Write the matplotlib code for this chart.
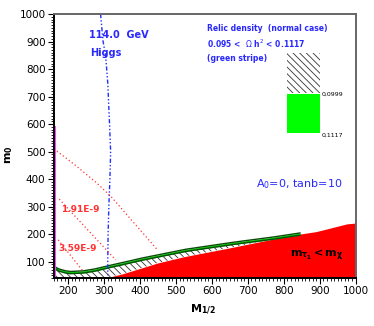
import numpy as np
import matplotlib.pyplot as plt
from matplotlib.ticker import MultipleLocator, FixedLocator
from matplotlib.patches import Rectangle

plt.rcParams['font.family'] = ['DejaVu Sans']
plt.rcParams['hatch.linewidth'] = 0.6

# stau LSP boundary (red region below)
red_m12 = [303, 350, 402, 449, 523, 646, 759, 830, 870, 890, 930, 975, 1000]
red_m0 = [40, 55, 76, 95, 118, 149, 179, 197, 205, 209, 222, 237, 240]

# green relic stripe (centre)
green_m12 = [162, 172, 190, 205, 240, 270, 308, 350, 402, 449, 523, 646, 759, 830, 845]
green_m0 = [78, 70, 63, 60, 62, 68, 80, 92, 108, 120, 140, 164, 183, 197, 200]

# Higgs 114 GeV contour
higgs_m12 = [290, 297, 304, 310, 315, 318, 316, 313, 311, 310, 310]
higgs_m0 = [1000, 900, 850, 750, 600, 500, 400, 300, 200, 100, 40]

# red dotted contours
c1_m12 = [160, 220, 280, 320, 380, 450]
c1_m0 = [510, 450, 385, 335, 245, 140]
c2_m12 = [175, 332]
c2_m0 = [327, 106]
c3_m12 = [172, 242]
c3_m0 = [179, 64]

x_ticks = [200, 300, 400, 500, 600, 700, 800, 900, 1000]
y_ticks = [100, 200, 300, 400, 500, 600, 700, 800, 900, 1000]

fig = plt.figure(figsize=(3.74, 3.26), dpi=100)
ax = fig.add_axes([0.144, 0.147, 0.807, 0.81])

x = np.linspace(160, 1000, 841)
red = np.interp(x, red_m12, red_m0, left=40)
green = np.interp(x, green_m12, green_m0)
gmask = x <= 845

# hatched region between stau boundary and green stripe
lo = np.maximum(red, 40)
ax.fill_between(x[gmask], lo[gmask], green[gmask] - 4, where=(green[gmask] - 4) > lo[gmask],
                facecolor='white', edgecolor='#333333', hatch='\\\\\\\\\\', linewidth=0)

# red region
ax.fill_between(x, 40, red, where=red > 40, color='#ff0000', linewidth=0)

# green stripe
ax.fill_between(x[gmask], green[gmask] - 4, green[gmask] + 4, color='#00e000', linewidth=0)
ax.plot(x[gmask], green[gmask] + 4, color='#0a4a0a', lw=1.0)
ax.plot(x[gmask], green[gmask] - 4, color='#0a4a0a', lw=1.0)

# magenta edge line
ax.plot([162, 162], [40, 590], color='#ff40ff', lw=1.5)

# Higgs line
ax.plot(higgs_m12, higgs_m0, color='#2030ff', lw=1.0, dashes=[3, 1.5, 1, 1.5, 1, 1.5])

# red dotted lines
for mx, my in [(c1_m12, c1_m0), (c2_m12, c2_m0), (c3_m12, c3_m0)]:
    ax.plot(mx, my, color='#ff3030', lw=0.9, dashes=[1.0, 2.0])

blue = '#2828ff'
ax.text(259, 924, '114.0  GeV', color=blue, fontsize=7, fontweight='bold', va='center')
ax.text(262, 858, 'Higgs', color=blue, fontsize=7, fontweight='bold', va='center')
ax.text(233, 290, '1.91E-9', color='#ff3030', fontsize=6.5, fontweight='bold', ha='center', va='center')
ax.text(225, 146, '3.59E-9', color='#ff3030', fontsize=6.5, fontweight='bold', ha='center', va='center')

ax.text(585, 946, 'Relic density  (normal case)', color=blue, fontsize=5.5, fontweight='bold', va='center')
ax.text(585, 891, r'0.095 <  $\Omega$ h$^2$ < 0.1117', color=blue, fontsize=5.5, fontweight='bold', va='center')
ax.text(585, 840, '(green stripe)', color=blue, fontsize=5.5, fontweight='bold', va='center')

ax.add_patch(Rectangle((808, 713), 93, 145, facecolor='white', edgecolor='#333333',
                       hatch='\\\\\\\\\\', linewidth=0))
ax.add_patch(Rectangle((808, 567), 93, 142, facecolor='#00ff00', edgecolor='none'))
ax.text(906, 709, '0,0999', fontsize=4.5, va='center')
ax.text(906, 560, '0,1117', fontsize=4.5, va='center')

ax.text(842, 382, r'A$_0$=0, tanb=10', color=blue, fontsize=8, ha='center', va='center')
ax.text(892, 124, r'$\mathbf{m_{\tau_1} < m_{\chi}}$', color='black', fontsize=8,
        ha='center', va='center')

ax.set_xlim(160, 1000)
ax.set_ylim(40, 1000)
ax.xaxis.set_major_locator(FixedLocator(x_ticks))
ax.xaxis.set_minor_locator(MultipleLocator(10))
ax.yaxis.set_major_locator(FixedLocator(y_ticks))
ax.yaxis.set_minor_locator(MultipleLocator(10))
ax.set_xticklabels([str(v) for v in x_ticks])
ax.set_yticklabels([str(v) for v in y_ticks])
ax.tick_params(which='major', length=4, width=0.8, labelsize=7.5, direction='out', pad=2)
ax.tick_params(which='minor', length=2, width=0.6, direction='out')
for s in ['left', 'bottom']:
    ax.spines[s].set_linewidth(1.4)
for s in ['top', 'right']:
    ax.spines[s].set_linewidth(1.4)
    ax.spines[s].set_color('#666666')

fig.text(0.543, 0.05, r'$\mathbf{M_{1/2}}$', fontsize=8, ha='center', va='center')
fig.text(0.025, 0.525, r'$\mathbf{m_0}$', fontsize=8, rotation=90, ha='center', va='center')

fig.savefig('out.png', dpi=100)
